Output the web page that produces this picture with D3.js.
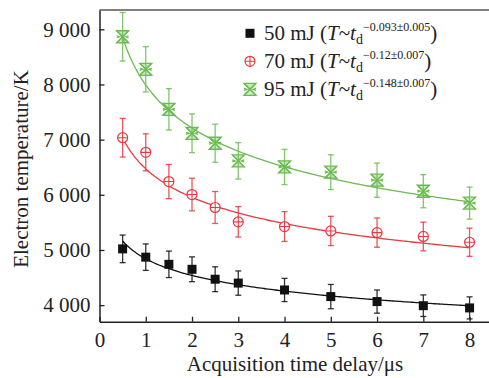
<!DOCTYPE html>
<html>
<head>
<meta charset="utf-8">
<script src="https://cdn.jsdelivr.net/npm/d3@7"></script>
<style>
  body{margin:0;background:#fff;}
  svg{font-family:"Liberation Serif","Times New Roman",serif;}
</style>
</head>
<body>
<svg id="chart" width="489" height="378"></svg>
<script>
// acquisition time delay (us)
var delays = [0.5, 1, 1.5, 2, 2.5, 3, 4, 5, 6, 7, 8];

// electron temperature (K) and error bars
var t50  = [5020, 4870, 4740, 4650, 4470, 4400, 4275, 4155, 4065, 3990, 3950];
var e50  = [250, 240, 240, 225, 225, 220, 210, 220, 210, 195, 200];
var t70  = [7035, 6770, 6240, 6005, 5770, 5510, 5425, 5345, 5315, 5245, 5140];
var e70  = [350, 335, 310, 295, 290, 275, 270, 265, 265, 260, 255];
var t95  = [8865, 8275, 7550, 7115, 6935, 6615, 6505, 6410, 6265, 6065, 5850];
var e95  = [440, 410, 375, 350, 345, 330, 320, 315, 310, 300, 290];

// power law fits T = A * t^-b
var fitA = [4840, 6470, 7990];
var fitB = [0.093, 0.12, 0.148];
var fitErr = ["0.005", "0.007", "0.007"];

var energies = ["50 mJ", "70 mJ", "95 mJ"];
var xTicks = [0, 1, 2, 3, 4, 5, 6, 7, 8];
var yTicks = [4000, 5000, 6000, 7000, 8000, 9000];

var colors = ["#111111", "#e8393f", "#6cbb52"];
var series = [
  {t: t50, e: e50, shape: "square"},
  {t: t70, e: e70, shape: "circle"},
  {t: t95, e: e95, shape: "star"}
];

var svg = d3.select("#chart");
var padL = 99.5, padR = 489, padT = 10, padB = 321.7;

var x = d3.scaleLinear().domain([0, 8.42]).range([padL, padR]);
var y = d3.scaleLinear().domain([3700, 9350]).range([padB, padT]);

var fmt = function(v){ return d3.format(",")(v).replace(",", " "); };

// frame
svg.append("line").attr("x1", padL).attr("x2", padR).attr("y1", padT).attr("y2", padT)
  .attr("stroke", "#555").attr("stroke-width", 1.5);

var xAxis = svg.append("g").attr("transform", "translate(0," + padB + ")")
  .call(d3.axisBottom(x).tickValues(xTicks).tickSizeInner(-5).tickSizeOuter(0).tickPadding(10).tickFormat(d3.format("d")));
var yAxis = svg.append("g").attr("transform", "translate(" + padL + ",0)")
  .call(d3.axisLeft(y).tickValues(yTicks).tickSizeInner(-5).tickSizeOuter(0).tickPadding(9).tickFormat(fmt));

[xAxis, yAxis].forEach(function(a){
  a.select(".domain").attr("stroke", "#222").attr("stroke-width", 1.5);
  a.selectAll(".tick line").attr("stroke", "#222").attr("stroke-width", 1.3);
  a.selectAll(".tick text").attr("font-size", 21).attr("fill", "#222")
    .attr("font-family", "Liberation Serif");
});

// axis titles
svg.append("text").attr("x", 295).attr("y", 371).attr("text-anchor", "middle")
  .attr("font-size", 21).attr("fill", "#222").text("Acquisition time delay/\u03bcs");
svg.append("text").attr("transform", "translate(28,169) rotate(-90)").attr("text-anchor", "middle")
  .attr("font-size", 21).attr("fill", "#222").text("Electron temperature/K");

function marker(g, shape, color){
  if (shape === "square") {
    g.append("rect").attr("x", -4.5).attr("y", -4.5).attr("width", 9).attr("height", 9).attr("fill", color);
  } else if (shape === "circle") {
    g.append("circle").attr("r", 5).attr("fill", "#fff").attr("stroke", color).attr("stroke-width", 1.2);
    g.append("path").attr("d", "M-5,0H5M0,-5V5").attr("stroke", color).attr("stroke-width", 1.1);
  } else {
    g.append("path").attr("d", "M-6,-6H6L-6,6H6Z").attr("fill", color).attr("fill-opacity", 0.35)
      .attr("stroke", color).attr("stroke-width", 1.3);
    g.append("path").attr("d", "M-6,-6L6,6M6,-6L-6,6M-6,-1L-3,0L-6,1M6,-1L3,0L6,1").attr("fill", "none")
      .attr("stroke", color).attr("stroke-width", 1.3);
  }
}

var line = d3.line().x(function(d){ return x(d[0]); }).y(function(d){ return y(d[1]); }).curve(d3.curveBasis);

series.forEach(function(s, k){
  var c = colors[k];
  var g = svg.append("g");
  // fit curve
  var ts = d3.range(0.5, 8.0001, 0.05);
  g.append("path").datum(ts.map(function(t){ return [t, fitA[k] * Math.pow(t, -fitB[k])]; }))
    .attr("d", line).attr("fill", "none").attr("stroke", c).attr("stroke-width", 1.3);

  // error bars
  var eb = g.selectAll(".eb").data(delays).enter().append("g")
    .attr("stroke", c).attr("stroke-width", 1.3).attr("stroke-opacity", 0.85);
  eb.append("line").attr("x1", function(d){ return x(d); }).attr("x2", function(d){ return x(d); })
    .attr("y1", function(d, i){ return y(s.t[i] + s.e[i]); }).attr("y2", function(d, i){ return y(s.t[i] - s.e[i]); });
  eb.append("line").attr("x1", function(d){ return x(d) - 3; }).attr("x2", function(d){ return x(d) + 3; })
    .attr("y1", function(d, i){ return y(s.t[i] + s.e[i]); }).attr("y2", function(d, i){ return y(s.t[i] + s.e[i]); });
  eb.append("line").attr("x1", function(d){ return x(d) - 3; }).attr("x2", function(d){ return x(d) + 3; })
    .attr("y1", function(d, i){ return y(s.t[i] - s.e[i]); }).attr("y2", function(d, i){ return y(s.t[i] - s.e[i]); });

  // markers
  g.selectAll(".pt").data(delays).enter().append("g")
    .attr("transform", function(d, i){ return "translate(" + x(d) + "," + y(s.t[i]) + ")"; })
    .each(function(){ marker(d3.select(this), s.shape, c); });
});

// legend
var legY = [33.3, 61.3, 89.3];
series.forEach(function(s, k){
  var lg = svg.append("g").attr("transform", "translate(250," + legY[k] + ")");
  marker(lg, s.shape, colors[k]);
  var tx = lg.append("text").attr("x", 14).attr("y", 7).attr("font-size", 21).attr("fill", "#222");
  tx.append("tspan").text(energies[k] + " (");
  tx.append("tspan").attr("font-style", "italic").text("T");
  tx.append("tspan").text("~");
  tx.append("tspan").attr("font-style", "italic").text("t");
  tx.append("tspan").attr("font-size", 14).attr("dy", 4).text("d");
  tx.append("tspan").attr("font-size", 12).attr("dy", -13).text("\u2212" + fitB[k] + "\u00b1" + fitErr[k]);
  tx.append("tspan").attr("dy", 9).text(")");
});
</script>
</body>
</html>
